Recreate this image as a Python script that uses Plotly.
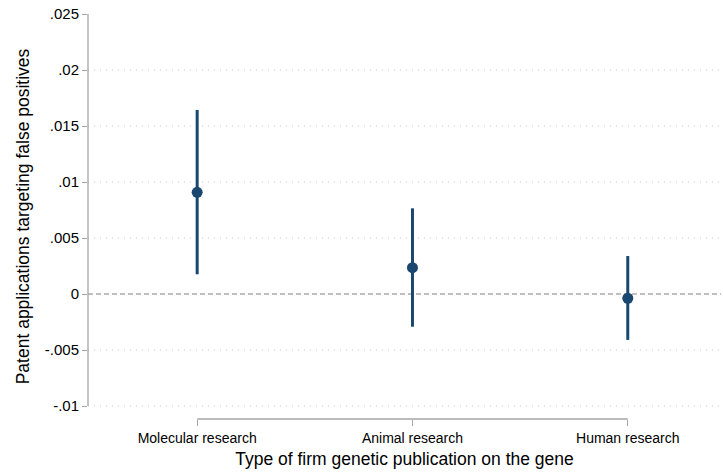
import plotly.graph_objects as go

categories = ["Molecular research", "Animal research", "Human research"]
estimates = [0.00908, 0.00235, -0.00038]
ci_upper = [0.01643, 0.00765, 0.00339]
ci_lower = [0.00176, -0.00292, -0.00410]
ytick_vals = [-0.01, -0.005, 0, 0.005, 0.01, 0.015, 0.02, 0.025]
ytick_text = ["-.01", "-.005", "0", ".005", ".01", ".015", ".02", ".025"]
grid_vals = [-0.01, -0.005, 0.005, 0.01, 0.015, 0.02]

navy = "#1a476f"
axis_gray = "#a6a6a6"
font_family = "Liberation Sans, Arial, Helvetica, sans-serif"

xpos = list(range(len(categories)))

fig = go.Figure()
fig.add_trace(go.Scatter(
    x=xpos, y=estimates, mode="markers",
    marker=dict(color=navy, size=11, line=dict(width=0)),
    error_y=dict(type="data", symmetric=False,
                 array=[u - e for u, e in zip(ci_upper, estimates)],
                 arrayminus=[e - l for e, l in zip(estimates, ci_lower)],
                 color=navy, thickness=3, width=0),
    showlegend=False, cliponaxis=False,
))

shapes = []
for g in grid_vals:
    shapes.append(dict(type="line", xref="paper", x0=0, x1=1, yref="y", y0=g, y1=g,
                       line=dict(color="#c8c8c8", width=1, dash="1px,5px"), layer="below"))
# zero reference line
shapes.append(dict(type="line", xref="paper", x0=0, x1=1, yref="y", y0=0, y1=0,
                   line=dict(color="#808080", width=1, dash="5px,3px"), layer="below"))
# y axis line spanning the labelled range
shapes.append(dict(type="line", xref="paper", x0=0, x1=0, yref="y",
                   y0=min(ytick_vals), y1=max(ytick_vals),
                   line=dict(color=axis_gray, width=1.3)))
# x axis line spanning the categories
shapes.append(dict(type="line", xref="x", x0=xpos[0], x1=xpos[-1], yref="paper", y0=0, y1=0,
                   line=dict(color=axis_gray, width=1.3)))

fig.update_layout(
    width=723, height=472,
    margin=dict(l=88, r=2, t=14, b=53),
    plot_bgcolor="white", paper_bgcolor="white",
    font=dict(family=font_family, color="#000000"),
    shapes=shapes,
    xaxis=dict(
        range=[-0.507, 2.433], tickvals=xpos, ticktext=categories,
        showgrid=False, zeroline=False, showline=False,
        ticks="outside", ticklen=6, tickcolor=axis_gray, tickwidth=1.3,
        tickfont=dict(size=14),
        title=dict(text="Type of firm genetic publication on the gene",
                   font=dict(size=17.5), standoff=7),
    ),
    yaxis=dict(
        range=[-0.011161, 0.025], tickvals=ytick_vals, ticktext=ytick_text,
        showgrid=False, zeroline=False, showline=False,
        ticks="outside", ticklen=5, tickcolor=axis_gray, tickwidth=1.3,
        tickfont=dict(size=15),
        title=dict(text="Patent applications targeting false positives",
                   font=dict(size=17.5), standoff=10),
    ),
)

fig.write_html("out.html")
